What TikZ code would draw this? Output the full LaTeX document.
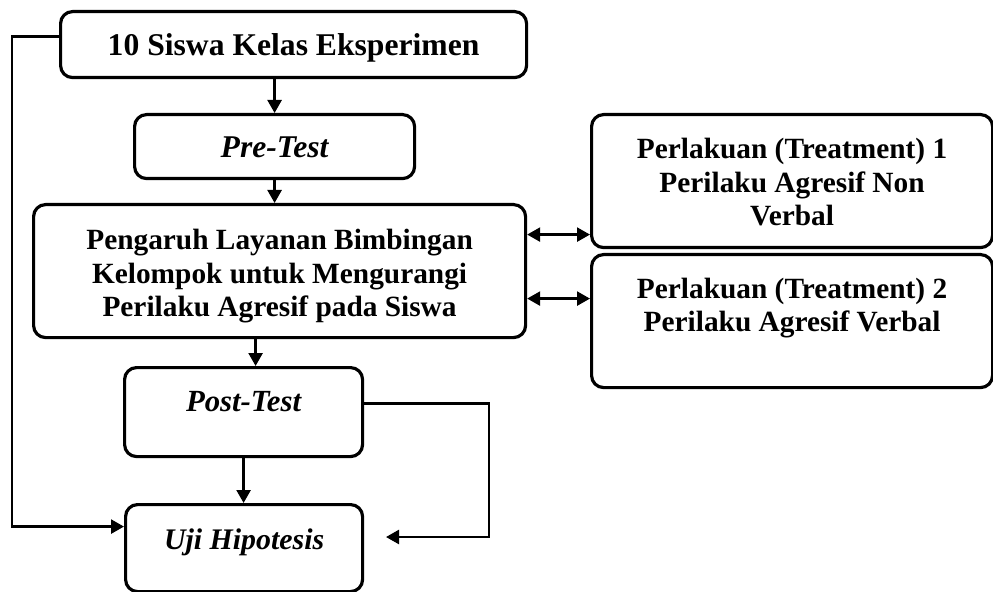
\documentclass[tikz,border=0pt]{standalone}
\usepackage{fontspec}
\setmainfont{Liberation Serif}
\usetikzlibrary{calc,arrows.meta}

\begin{document}
\begin{tikzpicture}[line width=1.4pt,>={Triangle[length=2.6mm,width=2.8mm]},
  kotak/.style={draw,line width=1.8pt,rounded corners=0.24cm,inner sep=0pt,align=center,anchor=north west,font=\fontsize{18}{19}\selectfont\bfseries},
  kecil/.style={font=\fontsize{16.7}{19}\selectfont\bfseries}]
  \useasboundingbox (0,0) rectangle (19.86,-11.84);
  % kotak alur
  \node[kotak,minimum width=9.32cm,text height=0.88cm,text depth=0.44cm] (siswa) at (1.18,-0.2) {10 Siswa Kelas Eksperimen};
  \node[kotak,minimum width=5.6cm,text height=0.86cm,text depth=0.42cm] (pre) at (2.66,-2.26) {\itshape Pre-Test};
  \node[kotak,kecil,minimum width=9.84cm,text height=2.24cm,text depth=0.42cm] (layanan) at (0.64,-4.06) {Pengaruh Layanan Bimbingan\\Kelompok untuk Mengurangi\\Perilaku Agresif pada Siswa};
  \node[kotak,kecil,minimum width=8.02cm,text height=2.22cm,text depth=0.44cm] (treat1) at (11.8,-2.26) {Perlakuan (Treatment) 1\\Perilaku Agresif Non\\Verbal};
  \node[kotak,kecil,minimum width=8.02cm,text height=1.54cm,text depth=1.12cm] (treat2) at (11.8,-5.06) {Perlakuan (Treatment) 2\\Perilaku Agresif Verbal};
  \node[kotak,font=\fontsize{17.5}{19}\selectfont\bfseries,minimum width=4.76cm,text height=0.88cm,text depth=0.9cm] (post) at (2.46,-7.32) {\itshape Post-Test};
  \node[kotak,font=\fontsize{17}{19}\selectfont\bfseries,minimum width=4.74cm,text height=0.9cm,text depth=0.84cm] (uji) at (2.48,-10.06) {\itshape Uji Hipotesis};
  % panah lurus
  \draw[->] (siswa.south -| pre.north) -- (pre.north);
  \draw[->] (pre.south) -- (pre.south |- layanan.north);
  \coordinate (m1) at ([xshift=0.24cm]post.north);
  \draw[->] (m1 |- layanan.south) -- (m1);
  \draw[->] (post.south) -- (post.south |- uji.north);
  % panah dua arah ke perlakuan
  \coordinate (d1) at ([yshift=-1.07cm]treat1.west);
  \coordinate (d2) at ([yshift=0.45cm]treat2.west);
  \draw[<->] (d1 -| layanan.east) -- (d1);
  \draw[<->] (d2 -| layanan.east) -- (d2);
  % garis kiri ke uji hipotesis
  \coordinate (l1) at ([yshift=0.43cm]uji.west);
  \draw[->] ([yshift=0.16cm]siswa.west) -- ++(-0.94,0) |- (l1);
  % garis kanan dari post-test
  \coordinate (r0) at (9.78,-10.74);
  \coordinate (r1) at (7.72,-10.74);
  \draw[->] ([yshift=0.17cm]post.east) -| (r0) -- (r1);
\end{tikzpicture}
\end{document}
